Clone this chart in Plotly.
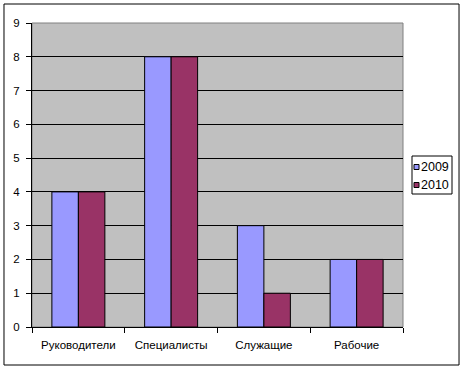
import plotly.graph_objects as go

categories = ["Руководители", "Специалисты", "Служащие", "Рабочие"]
series_names = ["2009", "2010"]
values_2009 = [4, 8, 3, 2]
values_2010 = [4, 8, 1, 2]
series_colors = ["#9999FF", "#993366"]
y_ticks = [0, 1, 2, 3, 4, 5, 6, 7, 8, 9]

fig = go.Figure()
for name, vals, col in zip(series_names, [values_2009, values_2010], series_colors):
    fig.add_trace(go.Bar(x=categories, y=vals, name=name,
                         marker=dict(color=col, line=dict(color="black", width=1))))

fig.update_layout(
    width=465, height=370,
    margin=dict(l=32, r=62, t=23, b=43, autoexpand=False),
    paper_bgcolor="white", plot_bgcolor="#C0C0C0",
    barmode="group", bargap=0.4286, bargroupgap=0,
    font=dict(family="Arial, Liberation Sans, sans-serif", size=11, color="black"),
    showlegend=False,
    xaxis=dict(showline=True, linecolor="black", linewidth=1, ticks="outside",
               tickson="boundaries", ticklen=5, tickcolor="black", showgrid=False,
               tickfont=dict(size=11.5), automargin=False, ticklabelstandoff=7),
    yaxis=dict(range=[0, 9], tickvals=y_ticks, showline=True, linecolor="black",
               linewidth=1, ticks="outside", ticklen=5, tickcolor="black",
               showgrid=True, gridcolor="black", gridwidth=1, zeroline=False,
               tickfont=dict(size=11.5), automargin=False, ticklabelstandoff=4),
)

# plot-area border (gray) and chart outer border
fig.add_shape(type="rect", xref="paper", yref="paper", x0=0, y0=0, x1=1, y1=1,
              line=dict(color="#808080", width=1), layer="below")
fig.add_shape(type="rect", xref="paper", yref="paper", x0=-0.0755, y0=-0.125,
              x1=1.151, y1=1.0625, line=dict(color="black", width=1))

# compact legend (Excel style)
fig.add_shape(type="rect", xref="paper", yref="paper", x0=1.0243, x1=1.1321,
              y0=0.4375, y1=0.5625, line=dict(color="black", width=1),
              fillcolor="white")
legend_y = [0.5263, 0.4671]
for name, col, ly in zip(series_names, series_colors, legend_y):
    fig.add_shape(type="rect", xref="paper", yref="paper",
                  xsizemode="pixel", ysizemode="pixel", xanchor=1.0364, yanchor=ly,
                  x0=-2.5, x1=2.5, y0=-2.5, y1=2.5, fillcolor=col,
                  line=dict(color="black", width=1))
    fig.add_annotation(x=1.0458, y=ly, xref="paper", yref="paper", text=name,
                       showarrow=False, xanchor="left", yanchor="middle",
                       font=dict(size=12.5), borderpad=0)

fig.write_html("out.html", config={"displayModeBar": False},
               post_script="document.body.style.margin='0';document.body.style.padding='0';")
